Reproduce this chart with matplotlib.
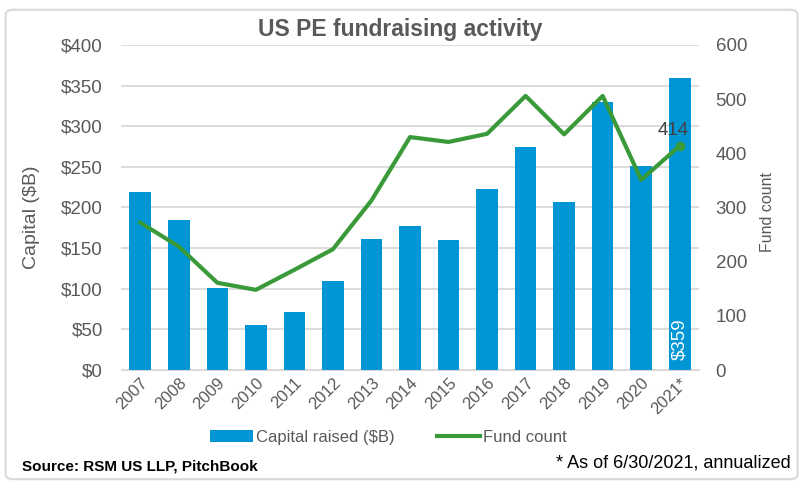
import matplotlib.pyplot as plt
from matplotlib.patches import FancyBboxPatch

# data
years = ['2007', '2008', '2009', '2010', '2011', '2012', '2013', '2014',
         '2015', '2016', '2017', '2018', '2019', '2020', '2021*']
capital = [219, 184, 101, 55, 71, 110, 161, 177, 160, 223, 275, 207, 330, 251, 359]
fund_count = [272, 228, 161, 148, 185, 223, 313, 430, 421, 436, 506, 435, 506, 351, 414]

bar_color = '#0096D6'
line_color = '#3A9A3A'
text_color = '#595959'

plt.rcParams['font.family'] = ['Liberation Sans', 'DejaVu Sans']

fig = plt.figure(figsize=(8.04, 4.88), dpi=100)
ax = fig.add_axes([0.1505, 0.2418, 0.7189, 0.666])
ax2 = ax.twinx()

x = list(range(len(years)))
ax.bar(x, capital, width=0.56, color=bar_color, zorder=2, label='Capital raised ($B)')
ax2.plot(x, fund_count, color=line_color, lw=3, zorder=3, label='Fund count')
ax2.plot(x[-1], fund_count[-1], 'o', color=line_color, ms=6, zorder=3)

ax.set_xlim(-0.5, len(years) - 0.5)
ax.set_ylim(0, 400)
ax2.set_ylim(0, 600)
ax.set_yticks(range(0, 401, 50))
ax.set_yticklabels([f'${v}' for v in range(0, 401, 50)])
ax2.set_yticks(range(0, 601, 100))
ax.set_xticks(x)
ax.set_xticklabels(years, rotation=45, ha='right', rotation_mode='anchor')

ax.yaxis.grid(True, color='#D9D9D9', lw=1.3, zorder=0)
ax.set_axisbelow(True)
for a in (ax, ax2):
    for s in a.spines.values():
        s.set_visible(False)
    a.tick_params(length=0, colors=text_color, labelsize=13.5)
ax.tick_params(axis='x', labelsize=12, pad=4)
ax.tick_params(axis='y', pad=13)
ax2.tick_params(axis='y', pad=12)
ax.spines['bottom'].set_visible(True)
ax.spines['bottom'].set_color('#D9D9D9')

# axis titles
fig.text(32 / 804, 1 - 217 / 488, 'Capital ($B)', rotation=90, ha='center',
         va='center', color=text_color, fontsize=14)
fig.text(768 / 804, 1 - 212 / 488, 'Fund count', rotation=90, ha='center',
         va='center', color=text_color, fontsize=11.5)

# data labels
ax2.annotate(f'{fund_count[-1]}', (x[-1], fund_count[-1]), xytext=(-5, 11),
             textcoords='offset points', ha='center', va='center',
             fontsize=13.5, color='#404040')
ax.text(x[-1], 12, f'${capital[-1]}', rotation=90, ha='center', va='bottom',
        color='white', fontsize=13.5)

fig.text(0.4975, 0.94, 'US PE fundraising activity', ha='center', va='center',
         fontsize=16.5, fontweight='bold', color=text_color)

h1, l1 = ax.get_legend_handles_labels()
h2, l2 = ax2.get_legend_handles_labels()
fig.legend(h1 + h2, l1 + l2, loc='center', bbox_to_anchor=(0.483, 0.104), ncol=2,
           frameon=False, fontsize=12, labelcolor=text_color, handlelength=2.6,
           columnspacing=2.5, handletextpad=0.2)

fig.text(0.027, 0.045, 'Source: RSM US LLP, PitchBook', fontsize=11,
         fontweight='bold', color='black', va='center')
fig.text(0.983, 0.052, '* As of 6/30/2021, annualized', fontsize=13,
         color='black', ha='right', va='center')

fig.patches.append(FancyBboxPatch((0.007, 0.018), 0.985, 0.962,
                                  boxstyle='round,pad=0,rounding_size=0.01',
                                  transform=fig.transFigure, fill=False,
                                  ec='#D9D9D9', lw=1.5))

fig.savefig('out.png', dpi=100)
